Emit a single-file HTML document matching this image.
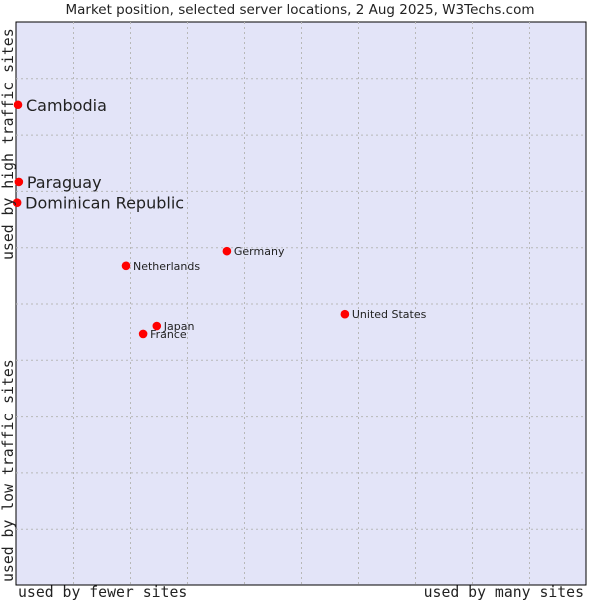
<!DOCTYPE html>
<html><head><meta charset="utf-8"><style>
html,body{margin:0;padding:0;background:#fff;width:600px;height:600px;overflow:hidden}
svg text{font-family:"DejaVu Sans","Liberation Sans",sans-serif;fill:#222}
.mono{font-family:"DejaVu Sans Mono","Liberation Mono",monospace !important;font-size:14.8px}
</style></head><body>
<svg id="chart" width="600" height="600">
<text x="300" y="14" text-anchor="middle" font-size="13.5">Market position, selected server locations, 2 Aug 2025, W3Techs.com</text>
<rect x="16" y="22" width="570" height="563" fill="#e3e4f8" stroke="#000" stroke-width="1"/>
<g id="grid"></g>
<g id="points"></g>
<text class="mono" x="18" y="597">used by fewer sites</text>
<text class="mono" x="584" y="597" text-anchor="end">used by many sites</text>
<text class="mono" transform="translate(13,582) rotate(-90)">used by low traffic sites</text>
<text class="mono" transform="translate(13,260) rotate(-90)">used by high traffic sites</text>
</svg>
<script>
const countries=["Cambodia","Paraguay","Dominican Republic","Germany","Netherlands","United States","Japan","France"];
const xValues=[0.35,0.5,0.2,37.0,19.3,57.7,24.7,22.3];
const yValues=[85.3,71.6,67.9,59.3,56.7,48.1,46.0,44.6];
const bigLabel=[true,true,true,false,false,false,false,false];
const gridTicks=[10,20,30,40,50,60,70,80,90];
const X0=16,X1=586,Y0=585,Y1=22;
const sx=v=>X0+(X1-X0)*v/100, sy=v=>Y0-(Y0-Y1)*v/100;
const NS="http://www.w3.org/2000/svg";
const grid=document.getElementById('grid');
gridTicks.forEach(t=>{
  const v=document.createElementNS(NS,'line');
  
  
  v.setAttribute('x1',sx(t)+.5);v.setAttribute('x2',sx(t)+.5);v.setAttribute('y1',Y1);v.setAttribute('y2',Y0);
  v.setAttribute('stroke','#b8b8b8');v.setAttribute('stroke-dasharray','2,3');grid.appendChild(v);
  const h=document.createElementNS(NS,'line');
  
  
  h.setAttribute('y1',sy(t)+.5);h.setAttribute('y2',sy(t)+.5);h.setAttribute('x1',X0);h.setAttribute('x2',X1);
  h.setAttribute('stroke','#b8b8b8');h.setAttribute('stroke-dasharray','2,3');grid.appendChild(h);
});
const pts=document.getElementById('points');
countries.forEach((c,i)=>{
  const x=sx(xValues[i]),y=sy(yValues[i]);
  const d=document.createElementNS(NS,'circle');
  
  
  d.setAttribute('cx',x);d.setAttribute('cy',y);d.setAttribute('r',4.3);d.setAttribute('fill','#f00');
  pts.appendChild(d);
  const t=document.createElementNS(NS,'text');
  
  
  const big=bigLabel[i];
  t.setAttribute('x',x+(big?8:7));t.setAttribute('y',y+(big?6:4));
  t.setAttribute('font-size',big?16:11);
  t.textContent=c;pts.appendChild(t);
});
</script>
</body></html>
